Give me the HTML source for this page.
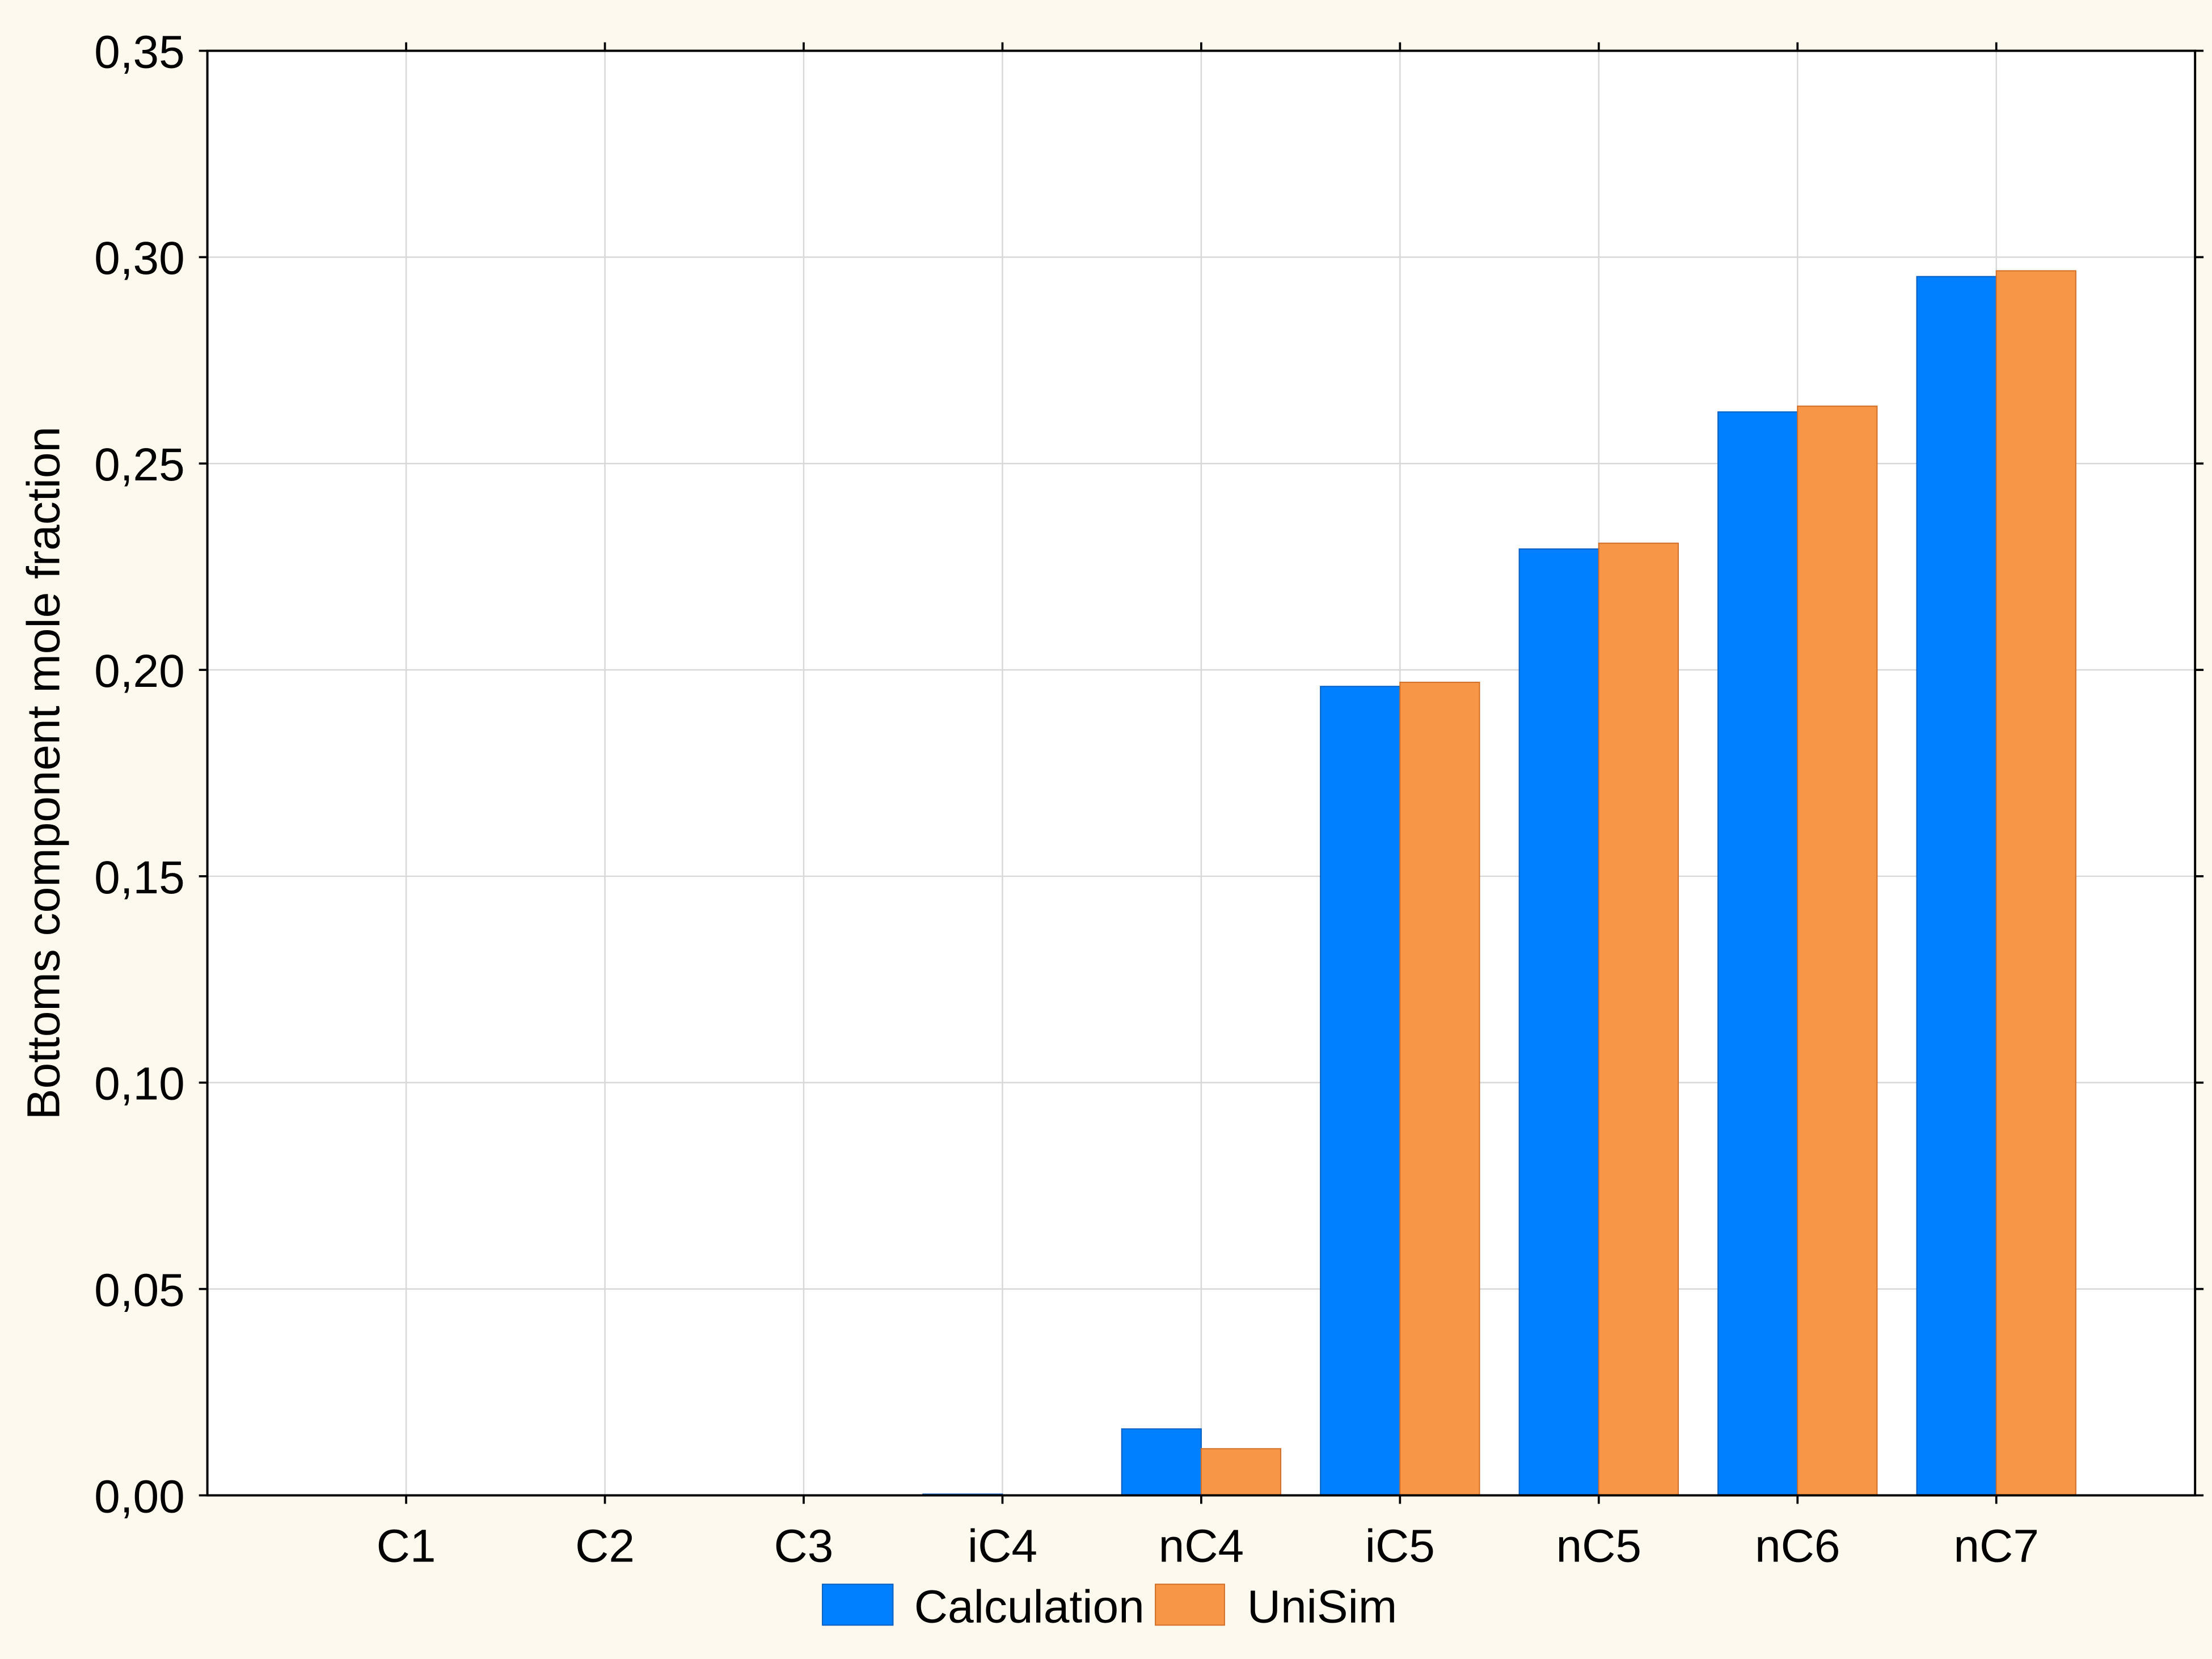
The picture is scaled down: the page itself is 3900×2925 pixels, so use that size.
<!DOCTYPE html>
<html><head><meta charset="utf-8"><style>
html,body{margin:0;padding:0;background:#fef9ee;}
svg{display:block;font-family:"Liberation Sans",Arial,sans-serif;}
</style></head><body>
<svg id="chart" width="3900" height="2925" viewBox="0 0 1568 1176" xmlns="http://www.w3.org/2000/svg">
<rect x="0" y="0" width="1568" height="1176" fill="#fef9ee"/>
<rect x="147" y="36" width="1409" height="1024" fill="#ffffff"/>
<g id="grid"></g>
<g id="bars"></g>
<rect x="147" y="36" width="1409" height="1024" fill="none" stroke="#000" stroke-width="1.6"/>
<g id="axes"></g>
<text x="42" y="548" font-size="33" text-anchor="middle" transform="rotate(-90 42 548)">Bottoms component mole fraction</text>
<g>
<rect x="583" y="1123" width="50" height="29" fill="#0080ff" stroke="#0a5fbf" stroke-width="0.8"/>
<text x="648" y="1150" font-size="33">Calculation</text>
<rect x="819" y="1123" width="49" height="29" fill="#f79646" stroke="#d0702a" stroke-width="0.8"/>
<text x="884" y="1150" font-size="33">UniSim</text>
</g>
</svg>
<script>
const categories = ["C1","C2","C3","iC4","nC4","iC5","nC5","nC6","nC7"];
const calcValues = [0,0,0,0.0003,0.0161,0.196,0.2293,0.2625,0.2953];
const unisimValues = [0,0,0,0,0.0113,0.197,0.2307,0.2639,0.2967];
const yTicks = [0,0.05,0.10,0.15,0.20,0.25,0.30,0.35];
const yTickLabels = ["0,00","0,05","0,10","0,15","0,20","0,25","0,30","0,35"];

const NS = "http://www.w3.org/2000/svg";
const L=147,R=1556,T=36,B=1060,YMAX=0.35;
const step=(R-L)/(categories.length+1);
function y(v){return B-(v/YMAX)*(B-T);}
function x(i){return L+step*(i+1);}
function mk(tag,attrs,parent){const e=document.createElementNS(NS,tag);for(const k in attrs)e.setAttribute(k,attrs[k]);parent.appendChild(e);return e;}
const grid=document.getElementById('grid'),bars=document.getElementById('bars'),axes=document.getElementById('axes');
yTicks.forEach((t,i)=>{
  const g=mk('line',{x1:L,x2:R,y1:y(t),y2:y(t),stroke:'#d8d8d8','stroke-width':1},grid);
  
  
  const tk=mk('line',{x1:L-6,x2:L,y1:y(t),y2:y(t),stroke:'#000','stroke-width':1.5},axes);
  
  
  const tk2=mk('line',{x1:R,x2:R+6,y1:y(t),y2:y(t),stroke:'#000','stroke-width':1.5},axes);
  
  
  const lb=mk('text',{x:L-16,y:y(t)+12,'font-size':33,'text-anchor':'end'},axes);
  lb.textContent=yTickLabels[i];
  
  
});
const bw=step*0.4;
categories.forEach((c,i)=>{
  const cx=x(i);
  const g=mk('line',{x1:cx,x2:cx,y1:T,y2:B,stroke:'#d8d8d8','stroke-width':1},grid);
  
  
  const tk=mk('line',{x1:cx,x2:cx,y1:B,y2:B+6,stroke:'#000','stroke-width':1.5},axes);
  
  
  const tk2=mk('line',{x1:cx,x2:cx,y1:T-6,y2:T,stroke:'#000','stroke-width':1.5},axes);
  
  
  const lb=mk('text',{x:cx,y:B+47,'font-size':33,'text-anchor':'middle'},axes);
  lb.textContent=c;
  
  
  if(calcValues[i]>0){
    const b=mk('rect',{x:cx-bw,y:y(calcValues[i]),width:bw,height:B-y(calcValues[i]),fill:'#0080ff',stroke:'#0a5fbf','stroke-width':0.8},bars);
    
    
  }
  if(unisimValues[i]>0){
    const b=mk('rect',{x:cx,y:y(unisimValues[i]),width:bw,height:B-y(unisimValues[i]),fill:'#f79646',stroke:'#d0702a','stroke-width':0.8},bars);
    
    
  }
});
</script>
</body></html>
